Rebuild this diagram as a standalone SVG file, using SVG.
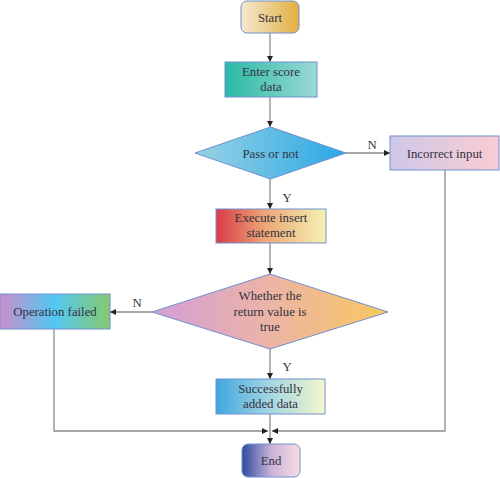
<svg xmlns="http://www.w3.org/2000/svg" width="500" height="478" viewBox="0 0 500 478">
<defs>
<style>
.n{stroke:#7190cf;stroke-width:1}
.t{font-family:"Liberation Serif","Times New Roman",serif;font-size:12.8px;fill:#33333f;text-anchor:middle}
.l{fill:none;stroke:#8a8a8a;stroke-width:1.3}
</style>
<marker id="ah" viewBox="0 0 6 6" refX="6" refY="3" markerWidth="6" markerHeight="6" markerUnits="userSpaceOnUse" orient="auto">
<path d="M0,0 L6,3 L0,6 z" fill="#222"/>
</marker>
<linearGradient id="gStart"><stop offset="0" stop-color="#f6ead2"/><stop offset="1" stop-color="#e2ae40"/></linearGradient>
<linearGradient id="gEnter"><stop offset="0" stop-color="#2bbaa4"/><stop offset="1" stop-color="#9ad9d5"/></linearGradient>
<linearGradient id="gPass"><stop offset="0" stop-color="#98d3e3"/><stop offset="1" stop-color="#2aa7e6"/></linearGradient>
<linearGradient id="gInc"><stop offset="0" stop-color="#cec8e8"/><stop offset="1" stop-color="#f9ccd2"/></linearGradient>
<linearGradient id="gExec"><stop offset="0" stop-color="#d93a48"/><stop offset="0.45" stop-color="#eca878"/><stop offset="1" stop-color="#f5f2b2"/></linearGradient>
<linearGradient id="gWhe"><stop offset="0" stop-color="#d49ed8"/><stop offset="0.5" stop-color="#ecb4a6"/><stop offset="1" stop-color="#f8c85e"/></linearGradient>
<linearGradient id="gFail"><stop offset="0" stop-color="#c88ecc"/><stop offset="0.5" stop-color="#52c8f2"/><stop offset="1" stop-color="#88c86e"/></linearGradient>
<linearGradient id="gSucc"><stop offset="0" stop-color="#40a6e0"/><stop offset="0.5" stop-color="#a6d6e2"/><stop offset="1" stop-color="#f4f6cc"/></linearGradient>
<linearGradient id="gEnd"><stop offset="0" stop-color="#2e4aa0"/><stop offset="0.5" stop-color="#c8b2d8"/><stop offset="1" stop-color="#fadde0"/></linearGradient>
</defs>
<rect width="500" height="478" fill="#fff"/>
<g id="connectors">
<line class="l" x1="270" y1="33" x2="270" y2="62" marker-end="url(#ah)"/>
<line class="l" x1="270" y1="97" x2="270" y2="127" marker-end="url(#ah)"/>
<line class="l" x1="346" y1="153" x2="390" y2="153" marker-end="url(#ah)"/>
<line class="l" x1="270" y1="179" x2="270" y2="209" marker-end="url(#ah)"/>
<line class="l" x1="270" y1="243" x2="270" y2="274" marker-end="url(#ah)"/>
<line class="l" x1="152" y1="312" x2="110" y2="312" marker-end="url(#ah)"/>
<line class="l" x1="270" y1="349" x2="270" y2="379" marker-end="url(#ah)"/>
<line class="l" x1="270" y1="414" x2="270" y2="444" marker-end="url(#ah)"/>
<polyline class="l" points="54,329 54,431 268,431" marker-end="url(#ah)"/>
<polyline class="l" points="445,170 445,431 272,431" marker-end="url(#ah)"/>
<text class="t" x="372" y="149">N</text>
<text class="t" x="287" y="202">Y</text>
<text class="t" x="137" y="307">N</text>
<text class="t" x="287" y="371">Y</text>
</g>
<g id="start">
<rect class="n" x="241" y="1" width="58" height="32" rx="6" fill="url(#gStart)"/>
<text class="t" x="270" y="21.5">Start</text>
</g>
<g id="enter">
<rect class="n" x="225" y="62" width="92" height="35" fill="url(#gEnter)"/>
<text class="t" x="271" y="76">Enter score</text>
<text class="t" x="271" y="90.5">data</text>
</g>
<g id="pass">
<polygon class="n" points="195,153 270.5,127 346,153 270.5,179" fill="url(#gPass)"/>
<text class="t" x="270.5" y="157.5">Pass or not</text>
</g>
<g id="incorrect">
<rect class="n" x="390" y="136" width="109" height="34" fill="url(#gInc)"/>
<text class="t" x="444.5" y="157.5">Incorrect input</text>
</g>
<g id="execute">
<rect class="n" x="216" y="209" width="110" height="34" fill="url(#gExec)"/>
<text class="t" x="271" y="222">Execute insert</text>
<text class="t" x="271" y="236.5">statement</text>
</g>
<g id="whether">
<polygon class="n" points="152,312 270,274 388,312 270,349" fill="url(#gWhe)"/>
<text class="t" x="270" y="300">Whether the</text>
<text class="t" x="270" y="316">return value is</text>
<text class="t" x="270" y="330.5">true</text>
</g>
<g id="failed">
<rect class="n" x="0" y="294" width="110" height="35" fill="url(#gFail)"/>
<text class="t" x="55" y="315.5">Operation failed</text>
</g>
<g id="success">
<rect class="n" x="216" y="379" width="109" height="35" fill="url(#gSucc)"/>
<text class="t" x="270.5" y="392.5">Successfully</text>
<text class="t" x="270.5" y="407.5">added data</text>
</g>
<g id="end">
<rect class="n" x="242" y="444" width="58" height="33" rx="6" fill="url(#gEnd)"/>
<text class="t" x="271" y="465">End</text>
</g>
</svg>
